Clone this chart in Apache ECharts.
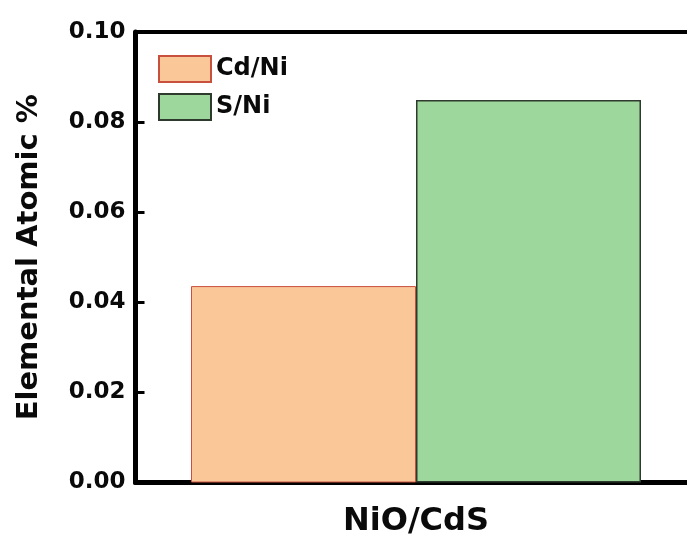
<!DOCTYPE html>
<html>
<head>
<meta charset="utf-8">
<script src="https://cdn.jsdelivr.net/npm/echarts@6/dist/echarts.min.js"></script>
<style>
html,body{margin:0;padding:0;background:#fff;}
#chart{width:687px;height:541px;}
</style>
</head>
<body>
<div id="chart"></div>
<script>
const categories = ['NiO/CdS'];
const seriesNames = ['Cd/Ni', 'S/Ni'];
const cdNiValues = [0.0436];
const sNiValues = [0.0849];
const yTicks = ['0.00', '0.02', '0.04', '0.06', '0.08', '0.10'];

const FONT = 'DejaVu Sans';
const chart = echarts.init(document.getElementById('chart'), null, {renderer: 'canvas'});
chart.setOption({
  backgroundColor: '#ffffff',
  animation: false,
  grid: {left: 135.5, top: 32, width: 561, height: 450.5, containLabel: false, outerBoundsMode: 'none'},
  legend: {
    orient: 'vertical',
    left: 158,
    top: 55,
    padding: 0,
    itemWidth: 52,
    itemHeight: 26,
    itemGap: 10,
    icon: 'rect',
    data: seriesNames,
    textStyle: {fontFamily: FONT, fontWeight: 'bold', fontSize: 24, color: '#0a0a0a'}
  },
  xAxis: [{
    type: 'category',
    data: categories,
    position: 'bottom',
    axisLine: {lineStyle: {color: '#000', width: 5}},
    axisTick: {show: false},
    axisLabel: {fontFamily: FONT, fontWeight: 'bold', fontSize: 32, color: '#0a0a0a', margin: 23}
  }, {
    type: 'category',
    data: categories,
    position: 'top',
    axisLine: {lineStyle: {color: '#000', width: 4}},
    axisTick: {show: false},
    axisLabel: {show: false}
  }],
  yAxis: {
    type: 'value',
    min: 0,
    max: 0.1,
    interval: 0.02,
    name: 'Elemental Atomic %',
    nameLocation: 'middle',
    nameGap: 92,
    nameTextStyle: {fontFamily: FONT, fontWeight: 'bold', fontSize: 29, color: '#0a0a0a'},
    axisLine: {show: true, lineStyle: {color: '#000', width: 5}},
    axisTick: {show: true, inside: true, length: 9, lineStyle: {color: '#000', width: 3}},
    splitLine: {show: false},
    axisLabel: {
      fontFamily: FONT, fontWeight: 'bold', fontSize: 23, color: '#0a0a0a', margin: 10,
      formatter: function (v) { return yTicks[Math.round(v / 0.02)]; }
    }
  },
  series: [{
    name: seriesNames[0],
    type: 'bar',
    data: cdNiValues,
    barWidth: 225,
    barGap: '0%',
    itemStyle: {color: '#F9C798', borderColor: '#C8503F', borderWidth: 1}
  }, {
    name: seriesNames[1],
    type: 'bar',
    data: sNiValues,
    barWidth: 225,
    barGap: '0%',
    itemStyle: {color: '#9ED79C', borderColor: '#2f3a2f', borderWidth: 1.5}
  }]
});
</script>
</body>
</html>
